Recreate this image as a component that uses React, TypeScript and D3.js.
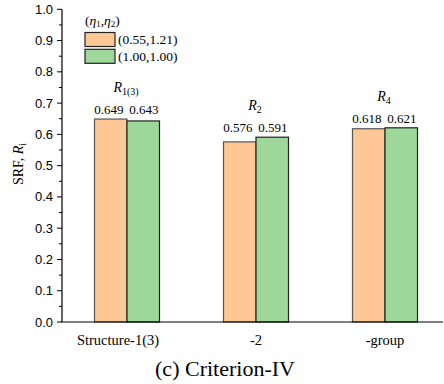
import React from "react";
import * as d3 from "d3";

const categories = ["Structure-1(3)", "-2", "-group"];
const groupTags = ["1(3)", "2", "4"];
const seriesNames = ["(0.55,1.21)", "(1.00,1.00)"];
const seriesA = [0.649, 0.576, 0.618];
const seriesB = [0.643, 0.591, 0.621];
const yTicks = [0, 0.1, 0.2, 0.3, 0.4, 0.5, 0.6, 0.7, 0.8, 0.9, 1.0];
const colors = ["#FDC896", "#9ED79A"];

const W = 444;
const H = 384;
const left = 62;
const right = 443;
const top = 9.3;
const bottom = 322;

export default function App() {
  const y = d3.scaleLinear().domain([0, 1]).range([bottom, top]);
  const x = d3.scaleLinear().domain([0, 2]).range([127, 385]);
  const barW = 32.5;
  const minor = d3.range(0.05, 1, 0.1);
  const serif = "'Liberation Serif', 'Times New Roman', serif";
  const sans = "'Liberation Sans', Arial, sans-serif";
  const series = [seriesA, seriesB];

  return (
    <svg width={W} height={H} style={{ position: "absolute", left: 0, top: 0 }}>
      <rect width={W} height={H} fill="#fff" />
      {/* bars */}
      {categories.map((c, i) =>
        series.map((s, k) => (
          <rect
            key={c + k}
            x={x(i) - barW + k * barW}
            y={y(s[i])}
            width={barW}
            height={y(0) - y(s[i])}
            fill={colors[k]}
            stroke={k === 0 ? "#555" : "#222"}
            strokeWidth={1.2}
          />
        ))
      )}
      {/* value labels and group tags */}
      {categories.map((c, i) => {
        const yTop = y(Math.max(seriesA[i], seriesB[i]));
        const base = yTop - 5;
        return (
          <g key={"lab" + c} fontFamily={serif} fontSize={13}>
            {series.map((s, k) => (
              <text
                key={k}
                x={x(i) - barW / 2 + k * barW + (k === 0 ? -2 : 0.5)}
                y={base}
                textAnchor="middle"
              >
                {s[i].toFixed(3)}
              </text>
            ))}
            <text x={x(i) - 1} y={base - 22} textAnchor="middle" fontSize={14}>
              <tspan fontStyle="italic">R</tspan>
              <tspan fontSize={10} dy={3}>{groupTags[i]}</tspan>
            </text>
          </g>
        );
      })}
      {/* axes */}
      <line x1={left} x2={left} y1={top} y2={bottom} stroke="#000" strokeWidth={1.2} />
      <line x1={left - 0.6} x2={right} y1={bottom} y2={bottom} stroke="#000" strokeWidth={1.2} />
      {yTicks.map((t) => (
        <g key={t}>
          <line x1={left - 5} x2={left} y1={y(t)} y2={y(t)} stroke="#000" strokeWidth={1} />
          <text
            x={left - 9}
            y={y(t)}
            dy="0.35em"
            textAnchor="end"
            fontFamily={sans}
            fontSize={13}
          >
            {t.toFixed(1)}
          </text>
        </g>
      ))}
      {minor.map((t) => (
        <line key={"m" + t} x1={left - 3} x2={left} y1={y(t)} y2={y(t)} stroke="#000" strokeWidth={1} />
      ))}
      {categories.map((c, i) => (
        <text
          key={"x" + c}
          x={i === 0 ? x(i) - 9 : x(i)}
          y={345}
          textAnchor="middle"
          fontFamily={serif}
          fontSize={14.5}
        >
          {c}
        </text>
      ))}
      {/* y label */}
      <text
        transform="translate(23,164) rotate(-90)"
        textAnchor="middle"
        fontFamily={serif}
        fontSize={14}
      >
        SRF, <tspan fontStyle="italic">R</tspan>
        <tspan fontSize={10} dy={3}>i</tspan>
      </text>
      {/* legend */}
      <g fontFamily={serif} fontSize={13.5}>
        <text x={85} y={25}>
          (<tspan fontStyle="italic">η</tspan>
          <tspan fontSize={9} dy={2}>1</tspan>
          <tspan dy={-2}>,</tspan>
          <tspan fontStyle="italic">η</tspan>
          <tspan fontSize={9} dy={2}>2</tspan>
          <tspan dy={-2}>)</tspan>
        </text>
        {seriesNames.map((n, k) => (
          <g key={n}>
            <rect
              x={85}
              y={32.5 + k * 16.8}
              width={30}
              height={14}
              fill={colors[k]}
              stroke="#222"
              strokeWidth={1.2}
            />
            <text x={118} y={39.5 + k * 16.8} dy="0.35em">
              {n}
            </text>
          </g>
        ))}
      </g>
      {/* caption */}
      <text
        x={225}
        y={376}
        textAnchor="middle"
        fontFamily={serif}
        fontSize={22}
      >
        (c) Criterion-IV
      </text>
    </svg>
  );
}
